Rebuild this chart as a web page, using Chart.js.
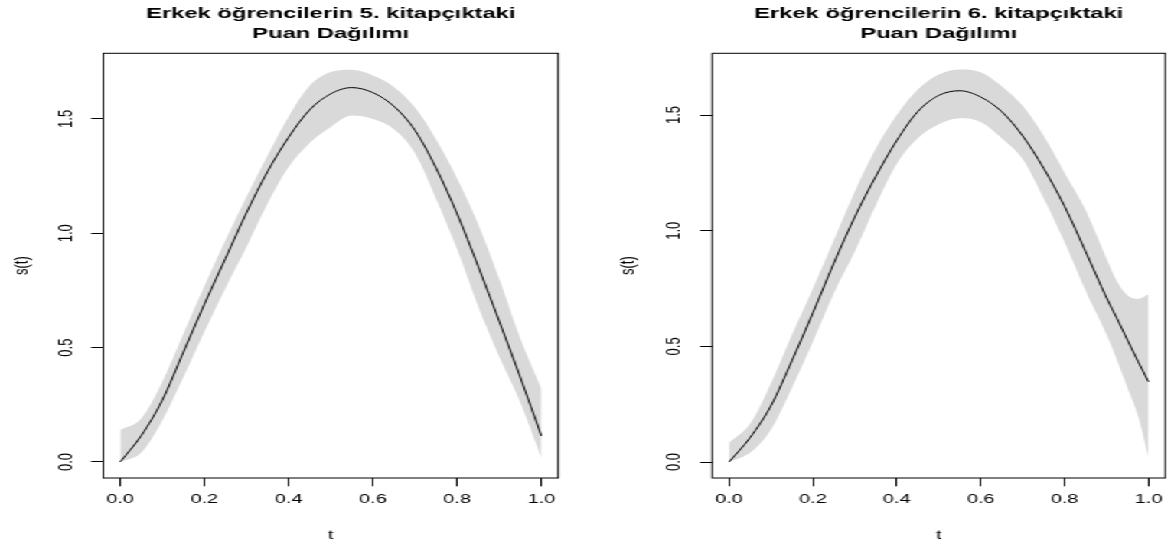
<!DOCTYPE html>
<html lang="tr">
<head>
<meta charset="utf-8">
<title>Puan Dağılımı</title>
<script src="https://cdn.jsdelivr.net/npm/chart.js@4.4.1/dist/chart.umd.min.js"></script>
<style>
  html, body { margin: 0; padding: 0; background: #fff; overflow: hidden; }
  /* the plots are laid out narrow and stretched sideways, like the exported png */
  #stage {
    position: absolute; left: 0; top: 0;
    width: 765px; height: 546px;
    display: flex;
    transform: scaleX(1.5307);
    transform-origin: 0 0;
  }
  .panel { position: relative; height: 546px; }
  #panel5 { width: 382px; }
  #panel6 { width: 383px; }
</style>
</head>
<body>
<div id="stage">
  <div class="panel" id="panel5"><canvas id="chart5"></canvas></div>
  <div class="panel" id="panel6"><canvas id="chart6"></canvas></div>
</div>
<script>
/* ===============================
   DATA
================================ */
const xTicks = [0, 0.2, 0.4, 0.6, 0.8, 1.0];
const yTicks = [0, 0.5, 1.0, 1.5];

const title5 = ["Erkek öğrencilerin 5. kitapçıktaki", "Puan Dağılımı"];
const title6 = ["Erkek öğrencilerin 6. kitapçıktaki", "Puan Dağılımı"];

// booklet 5: s(t) estimate with its band
const t5 = [0, 0.05, 0.1, 0.15, 0.2, 0.25, 0.3, 0.35, 0.4, 0.45, 0.5,
            0.55, 0.6, 0.65, 0.7, 0.75, 0.8, 0.85, 0.9, 0.95, 1];
const mean5 = [0, 0.115, 0.27, 0.48, 0.69, 0.89, 1.09, 1.27, 1.42, 1.54, 1.61,
               1.637, 1.615, 1.555, 1.45, 1.285, 1.085, 0.855, 0.615, 0.37, 0.114];
const upper5 = [0.14, 0.19, 0.35, 0.56, 0.77, 0.97, 1.16, 1.34, 1.51, 1.645, 1.705,
                1.715, 1.69, 1.64, 1.55, 1.41, 1.24, 1.04, 0.80, 0.54, 0.32];
const lower5 = [0, 0.04, 0.18, 0.37, 0.57, 0.76, 0.94, 1.13, 1.29, 1.395, 1.465,
                1.515, 1.50, 1.455, 1.35, 1.15, 0.93, 0.68, 0.46, 0.26, 0.016];

// booklet 6
const t6 = [0, 0.05, 0.1, 0.15, 0.2, 0.25, 0.3, 0.35, 0.4, 0.45, 0.5, 0.55,
            0.6, 0.65, 0.7, 0.75, 0.8, 0.85, 0.9, 0.925, 0.95, 0.975, 1];
const mean6 = [0, 0.105, 0.243, 0.438, 0.645, 0.86, 1.06, 1.235, 1.39, 1.515, 1.585, 1.605,
               1.578, 1.515, 1.41, 1.27, 1.105, 0.91, 0.71, 0.62, 0.527, 0.435, 0.347];
const upper6 = [0.083, 0.165, 0.34, 0.55, 0.75, 0.96, 1.17, 1.355, 1.50, 1.61, 1.675, 1.697,
                1.685, 1.625, 1.54, 1.41, 1.25, 1.09, 0.88, 0.78, 0.72, 0.705, 0.725];
const lower6 = [0, 0.04, 0.14, 0.32, 0.52, 0.73, 0.91, 1.11, 1.29, 1.40, 1.46, 1.486,
                1.47, 1.40, 1.31, 1.14, 0.95, 0.74, 0.55, 0.44, 0.32, 0.20, 0.02];


/* ===============================
   SHARED STYLE
================================ */
const FONT = 'Arial, "Liberation Sans", Helvetica, sans-serif';
Chart.defaults.font.family = FONT;
Chart.defaults.color = "#000";

const toPoints = (xs, ys) => xs.map((x, i) => ({ x, y: ys[i] }));

// closed frame around the plotting region
const plotBox = {
  id: "plotBox",
  afterDraw(chart) {
    const { ctx, chartArea: a } = chart;
    ctx.save();
    ctx.strokeStyle = "#000";
    ctx.lineWidth = 1;
    ctx.strokeRect(a.left, a.top, a.right - a.left, a.bottom - a.top);
    ctx.restore();
  }
};


/* ===============================
   PANEL BUILDER
================================ */
function makePanel(id, title, t, mean, upper, lower, opt) {
  const lineBase = {
    pointRadius: 0,
    cubicInterpolationMode: "monotone",
    borderWidth: 0
  };

  // chart.js paints the first dataset last, so the estimate goes first
  return new Chart(document.getElementById(id), {
    type: "line",
    data: {
      datasets: [
        { ...lineBase, data: toPoints(t, mean), fill: false, borderColor: "#000", borderWidth: 1 },
        { ...lineBase, data: toPoints(t, upper), fill: "+1", backgroundColor: "#d9d9d9" },
        { ...lineBase, data: toPoints(t, lower), fill: false }
      ]
    },
    options: {
      responsive: true,
      maintainAspectRatio: false,
      animation: false,
      layout: { padding: { left: 0, right: opt.padRight, top: 0, bottom: 0 } },
      plugins: {
        legend: { display: false },
        tooltip: { enabled: false },
        title: {
          display: true,
          text: title,
          fullSize: false,
          color: "#000",
          font: { size: 15.5, weight: "bold", lineHeight: 1.29 },
          padding: { top: 4.2, bottom: 9.1 }
        }
      },
      scales: {
        x: {
          type: "linear",
          min: -0.04,
          max: 1.04,
          afterBuildTicks: s => { s.ticks = xTicks.map(v => ({ value: v })); },
          afterFit: s => { s.height = 68; },
          ticks: {
            font: { size: 13 },
            color: "#000",
            padding: 5.5,
            maxRotation: 0,
            autoSkip: false,
            callback: v => v.toFixed(1)
          },
          grid: {
            drawOnChartArea: false,
            drawTicks: true,
            tickLength: 8.3,
            color: "#000",
            tickColor: "#000"
          },
          border: { display: false },
          title: {
            display: true,
            text: "t",
            font: { size: 13 },
            color: "#000",
            padding: { top: 0, bottom: 3.2 }
          }
        },
        y: {
          type: "linear",
          min: opt.yMin,
          max: opt.yMax,
          afterBuildTicks: s => { s.ticks = yTicks.map(v => ({ value: v })); },
          afterFit: s => { s.width = opt.axisWidth; },
          ticks: {
            font: { size: 13 },
            color: "#000",
            padding: 7.5,
            minRotation: 90,
            maxRotation: 90,
            crossAlign: "center",
            callback: v => v.toFixed(1)
          },
          grid: {
            drawOnChartArea: false,
            drawTicks: true,
            tickLength: 8,
            color: "#000",
            tickColor: "#000"
          },
          border: { display: false },
          title: {
            display: true,
            text: "s(t)",
            font: { size: 13 },
            color: "#000",
            padding: { top: opt.titlePad, bottom: 0 }
          }
        }
      }
    },
    plugins: [plotBox]
  });
}


/* ===============================
   CHARTS
================================ */
makePanel("chart5", title5, t5, mean5, upper5, lower5, {
  axisWidth: 67.5, padRight: 17.3, yMin: -0.070, yMax: 1.787, titlePad: 6.4
});

makePanel("chart6", title6, t6, mean6, upper6, lower6, {
  axisWidth: 83.3, padRight: 3.3, yMin: -0.069, yMax: 1.767, titlePad: 20.7
});
</script>
</body>
</html>
